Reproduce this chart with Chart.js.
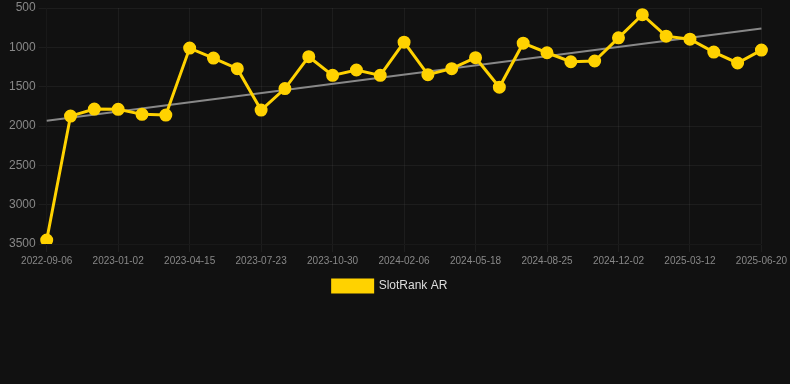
<!DOCTYPE html>
<html>
<head>
<meta charset="utf-8">
<script src="https://cdn.jsdelivr.net/npm/chart.js@4/dist/chart.umd.min.js"></script>
<style>
  html, body { margin: 0; padding: 0; background: #111111; }
  #wrap { width: 790px; height: 302px; position: relative; }
</style>
</head>
<body>
<div id="wrap"><canvas id="c"></canvas></div>
<script>
const dates = [
  "2022-09-06","2022-10-15","2022-11-23","2023-01-02","2023-02-04","2023-03-12",
  "2023-04-15","2023-05-20","2023-06-22","2023-07-23","2023-08-28","2023-09-30",
  "2023-10-30","2023-12-05","2024-01-05","2024-02-06","2024-03-12","2024-04-15",
  "2024-05-18","2024-06-22","2024-07-25","2024-08-25","2024-09-30","2024-11-02",
  "2024-12-02","2025-01-08","2025-02-10","2025-03-12","2025-04-15","2025-05-18",
  "2025-06-20"
];
const rankValues = [
  3450, 1874, 1785, 1788, 1852, 1861,
  1010, 1136, 1271, 1798, 1524, 1119,
  1356, 1288, 1356, 934, 1347, 1271,
  1132, 1507, 947, 1069, 1183, 1174,
  879, 585, 858, 896, 1060, 1199,
  1035
];
const trendStart = 1933;
const trendEnd = 761;
const trendValues = dates.map((d, i) => i === 0 ? trendStart : (i === dates.length - 1 ? trendEnd : null));
const yTicks = [500, 1000, 1500, 2000, 2500, 3000, 3500];

new Chart(document.getElementById('c'), {
  type: 'line',
  data: {
    labels: dates,
    datasets: [
      {
        label: 'SlotRank AR',
        data: rankValues,
        borderColor: '#FFD200',
        backgroundColor: '#FFD200',
        borderWidth: 3,
        pointRadius: 5,
        pointHoverRadius: 5,
        pointBackgroundColor: '#FFD200',
        pointBorderColor: '#FFD200',
        tension: 0,
        order: 1
      },
      {
        label: 'trend',
        data: trendValues,
        borderColor: '#888888',
        borderWidth: 2,
        pointRadius: 0,
        spanGaps: true,
        fill: false,
        order: 2
      }
    ]
  },
  options: {
    responsive: true,
    maintainAspectRatio: false,
    animation: false,
    layout: { padding: { left: 6, right: 16, top: -2 } },
    plugins: {
      legend: {
        position: 'bottom',
        labels: {
          color: '#dddddd',
          font: { family: 'Liberation Sans, Arial', size: 12 },
          boxWidth: 40,
          boxHeight: 12,
          filter: (item) => item.text !== 'trend'
        }
      },
      tooltip: { enabled: false }
    },
    scales: {
      x: {
        grid: { color: 'rgba(255,255,255,0.05)' },
        ticks: {
          color: '#888888',
          font: { family: 'Liberation Sans, Arial', size: 10 },
          autoSkip: false,
          maxRotation: 0,
          minRotation: 0,
          callback: function(v, i) { return i % 3 === 0 ? dates[i] : null; }
        }
      },
      y: {
        reverse: true,
        min: 500,
        max: 3500,
        grid: { color: 'rgba(255,255,255,0.05)' },
        afterBuildTicks: (axis) => { axis.ticks = yTicks.map(v => ({ value: v })); },
        ticks: {
          color: '#888888',
          font: { family: 'Liberation Sans, Arial', size: 12, lineHeight: 0.35 },
          callback: (v) => String(v)
        }
      }
    }
  }
});
</script>
</body>
</html>
